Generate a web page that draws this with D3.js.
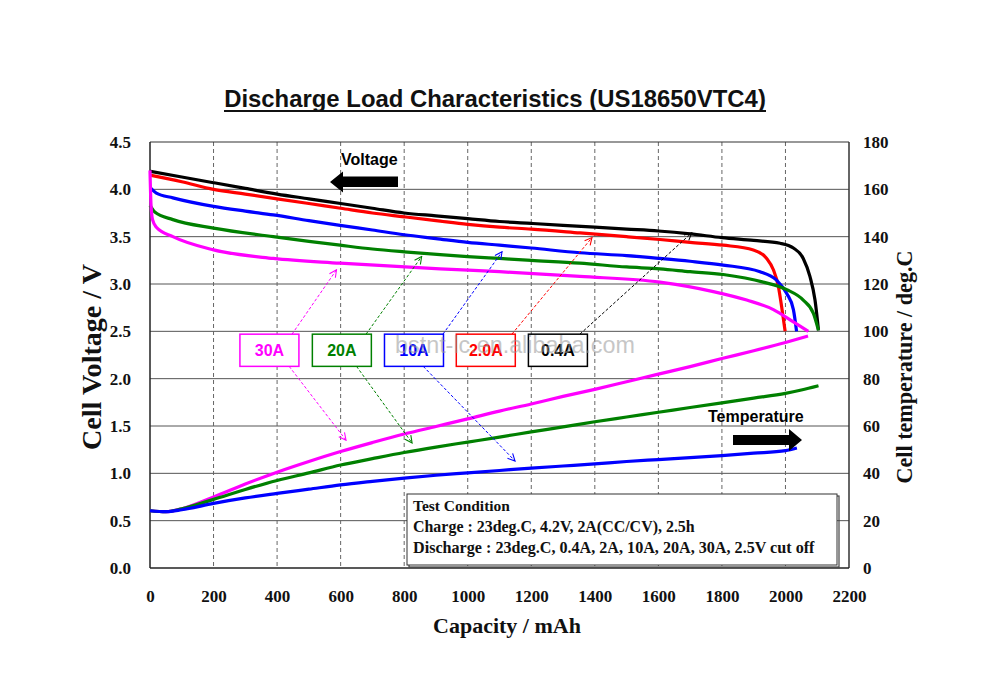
<!DOCTYPE html>
<html><head><meta charset="utf-8">
<script src="https://cdn.jsdelivr.net/npm/d3@7"></script>
<style>body{margin:0;background:#fff}</style></head>
<body>
<svg id="c" width="1000" height="685"></svg>
<script>
// ---------- DATA ----------
const capacityTicks = [0,200,400,600,800,1000,1200,1400,1600,1800,2000,2200];
const voltageTicks = [0,0.5,1,1.5,2,2.5,3,3.5,4,4.5];
const tempTicks = [0,20,40,60,80,100,120,140,160,180];
const loadLabels = ["30A","20A","10A","2.0A","0.4A"];
const loadColors = ["#ff00ff","#008000","#0000ff","#ff0000","#000000"];

// discharge voltage curves (capacity mAh, voltage V)
const cap30A = [0,3,8,20,72,200,388,598,913,1100,1353,1605,1773,1878,1962,2025,2072];
const volt30A = [4.20,3.85,3.68,3.60,3.50,3.36,3.27,3.22,3.16,3.13,3.08,3.02,2.92,2.83,2.73,2.60,2.50];
const cap20A = [0,15,72,200,388,500,598,700,800,913,1000,1100,1200,1353,1500,1605,1700,1804,1930,2004,2056,2088,2104];
const volt20A = [3.83,3.76,3.68,3.59,3.50,3.45,3.41,3.37,3.34,3.31,3.29,3.27,3.25,3.22,3.18,3.16,3.13,3.10,3.02,2.94,2.83,2.69,2.51];
const cap10A = [0,20,72,200,300,388,500,598,700,800,900,1000,1100,1200,1353,1500,1605,1700,1804,1920,1972,2004,2025,2035];
const volt10A = [4.02,3.96,3.91,3.82,3.77,3.73,3.67,3.62,3.57,3.52,3.48,3.44,3.41,3.38,3.33,3.30,3.27,3.24,3.20,3.13,3.04,2.90,2.73,2.50];
const cap2A = [0,100,200,300,400,500,600,700,800,900,1000,1100,1200,1353,1500,1605,1700,1804,1899,1941,1962,1978,1988,1999];
const volt2A = [4.15,4.08,4.00,3.95,3.90,3.85,3.80,3.75,3.71,3.67,3.63,3.60,3.58,3.54,3.50,3.47,3.44,3.41,3.36,3.27,3.15,2.97,2.76,2.50];
const cap04A = [0,100,200,300,400,500,600,700,800,900,1000,1100,1200,1300,1400,1500,1600,1700,1800,1900,1983,2025,2056,2077,2093,2104];
const volt04A = [4.19,4.13,4.07,4.01,3.95,3.90,3.85,3.80,3.75,3.72,3.69,3.66,3.64,3.62,3.60,3.58,3.56,3.53,3.49,3.46,3.43,3.38,3.27,3.08,2.83,2.51];

// cell temperature curves (capacity mAh, deg.C)
const tcap30A = [0,50,100,200,300,400,500,600,700,800,900,1000,1100,1200,1300,1400,1500,1600,1700,1800,1900,2000,2071];
const temp30A = [24.2,23.8,25,30,35.5,40.5,45,49.2,53,56.6,59.8,63,66.3,69.3,72.5,75.5,78.7,81.9,85.1,88.5,91.8,95.3,98];
const tcap20A = [0,50,100,200,300,400,500,600,700,800,900,1000,1100,1200,1300,1400,1500,1600,1700,1800,1900,2000,2050,2104];
const temp20A = [24.2,23.8,25,29,33.2,37,40.2,43.5,46.2,48.8,51.1,53.2,55.3,57.5,59.6,61.8,63.8,65.8,67.8,69.8,71.8,73.8,75.2,77];
const tcap10A = [0,50,100,200,300,400,500,600,700,800,900,1000,1100,1200,1300,1400,1500,1600,1700,1800,1900,2000,2036];
const temp10A = [24.2,23.8,24.6,27.3,29.6,31.5,33.3,35.1,36.6,38,39.2,40.2,41.2,42.2,43.1,44,45,45.8,46.6,47.5,48.5,49.6,50.7];

// annotation arrows (capacity, voltage) from label boxes to curves
const upArrowStart = [[447,2.47],[680,2.47],[922,2.47],[1139,2.47],[1353,2.47]];
const upArrowEnd = [[587,3.15],[855,3.29],[1108,3.34],[1391,3.49],[1705,3.54]];
const downArrowStart = [[438,2.13],[650,2.13],[860,2.13]];
const downArrowEnd = [[617,1.35],[825,1.32],[1149,1.13]];
const labelBoxCap = [283,511,738,964,1191];

const testLines = ["Test Condition","Charge : 23deg.C, 4.2V, 2A(CC/CV), 2.5h","Discharge : 23deg.C, 0.4A, 2A, 10A, 20A, 30A, 2.5V cut off"];

// ---------- CHART ----------
const svg = d3.select("#c");
const L = 150, R = 849, T = 142, B = 568;
const x = d3.scaleLinear().domain([0,2200]).range([L,R]);
const y = d3.scaleLinear().domain([0,4.5]).range([B,T]);
const yT = d3.scaleLinear().domain([0,180]).range([B,T]);
const serif = "'Liberation Serif','Times New Roman',serif";
const sans = "'Liberation Sans',Arial,sans-serif";

function fit(t, w){
  const n = t.node();
  const fs = parseFloat(t.attr("font-size"));
  const len = n.getComputedTextLength();
  t.attr("font-size", fs*w/len);
}

// grid
const g = svg.append("g");
g.selectAll(".hg").data(voltageTicks.filter(v=>v>0 && v<4.5)).enter().append("line")
  .attr("x1",L).attr("x2",R).attr("y1",d=>y(d)).attr("y2",d=>y(d))
  .attr("stroke","#555").attr("stroke-width",1);
g.selectAll(".vg").data(capacityTicks.filter(c=>c>0 && c<2200)).enter().append("line")
  .attr("x1",d=>x(d)).attr("x2",d=>x(d)).attr("y1",T).attr("y2",B)
  .attr("stroke","#666").attr("stroke-width",1).attr("stroke-dasharray","4,3");

// frame
svg.append("line").attr("x1",L).attr("x2",R).attr("y1",T).attr("y2",T).attr("stroke","#333").attr("stroke-width",1.2);
svg.append("line").attr("x1",R).attr("x2",R).attr("y1",T).attr("y2",B).attr("stroke","#333").attr("stroke-width",1.5);
svg.append("line").attr("x1",L).attr("x2",L).attr("y1",T).attr("y2",B).attr("stroke","#222").attr("stroke-width",1.5);
svg.append("line").attr("x1",L).attr("x2",R).attr("y1",B).attr("y2",B).attr("stroke","#222").attr("stroke-width",1.5);

// axes tick labels using d3 axes
const axL = svg.append("g").attr("transform",`translate(${L},0)`)
  .call(d3.axisLeft(y).tickValues(voltageTicks).tickFormat(d3.format(".1f")).tickSize(0).tickPadding(19));
const axR = svg.append("g").attr("transform",`translate(${R},0)`)
  .call(d3.axisRight(yT).tickValues(tempTicks).tickFormat(d3.format("d")).tickSize(0).tickPadding(14));
const axB = svg.append("g").attr("transform",`translate(0,${B})`)
  .call(d3.axisBottom(x).tickValues(capacityTicks).tickFormat(d3.format("d")).tickSize(0).tickPadding(22));
[axL,axR,axB].forEach(a=>{
  a.select(".domain").remove();
  a.selectAll("text").attr("font-family",serif).attr("font-weight","bold").attr("font-size",17).attr("fill","#111");
});

// curves
const vSeries = [[cap30A,volt30A],[cap20A,volt20A],[cap10A,volt10A],[cap2A,volt2A],[cap04A,volt04A]];
const line = d3.line().x(d=>x(d[0])).y(d=>y(d[1])).curve(d3.curveMonotoneX);
const lineT = d3.line().x(d=>x(d[0])).y(d=>yT(d[1])).curve(d3.curveMonotoneX);
const tSeries = [[tcap30A,temp30A],[tcap20A,temp20A],[tcap10A,temp10A]];
tSeries.forEach((s,i)=>{
  svg.append("path").attr("d",lineT(s[0].map((c,k)=>[c,s[1][k]])))
    .attr("fill","none").attr("stroke",loadColors[i]).attr("stroke-width",3.2);
});
[4,3,2,1,0].forEach(i=>{
  const s = vSeries[i];
  svg.append("path").attr("d",line(s[0].map((c,k)=>[c,s[1][k]])))
    .attr("fill","none").attr("stroke",loadColors[i]).attr("stroke-width",3.2).attr("stroke-linejoin","round");
});

// arrow markers
const defs = svg.append("defs");
loadColors.forEach((c,i)=>{
  defs.append("marker").attr("id","m"+i).attr("viewBox","0 0 10 10").attr("refX",9).attr("refY",5)
    .attr("markerWidth",9).attr("markerHeight",9).attr("markerUnits","userSpaceOnUse").attr("orient","auto")
    .append("path").attr("d","M1,1 L9,5 L1,9").attr("fill","none").attr("stroke",c).attr("stroke-width",1.2);
});
upArrowStart.forEach((s,i)=>{
  svg.append("line").attr("x1",x(s[0])).attr("y1",y(s[1])).attr("x2",x(upArrowEnd[i][0])).attr("y2",y(upArrowEnd[i][1]))
    .attr("stroke",loadColors[i]).attr("stroke-width",1).attr("stroke-dasharray","3,2").attr("marker-end",`url(#m${i})`);
});
downArrowStart.forEach((s,i)=>{
  svg.append("line").attr("x1",x(s[0])).attr("y1",y(s[1])).attr("x2",x(downArrowEnd[i][0])).attr("y2",y(downArrowEnd[i][1]))
    .attr("stroke",loadColors[i]).attr("stroke-width",1).attr("stroke-dasharray","3,2").attr("marker-end",`url(#m${i})`);
});

// label boxes
labelBoxCap.forEach((c,i)=>{
  const bx = x(c), by = y(2.47), bw = 59, bh = y(2.13)-y(2.47);
  svg.append("rect").attr("x",bx).attr("y",by).attr("width",bw).attr("height",bh)
    .attr("fill","#fff").attr("stroke",loadColors[i]).attr("stroke-width",1.5);
  svg.append("text").attr("x",bx+bw/2).attr("y",by+bh/2+6).attr("text-anchor","middle")
    .attr("font-family",sans).attr("font-weight","bold").attr("font-size",16).attr("fill",loadColors[i])
    .text(loadLabels[i]);
});

// Voltage / Temperature annotations
svg.append("text").attr("x",341).attr("y",165).attr("font-family",sans).attr("font-weight","bold").attr("font-size",16).text("Voltage");
svg.append("path").attr("d","M330,182 L343,171.5 L343,176.5 L398,176.5 L398,187 L343,187 L343,192.5 Z").attr("fill","#000");
svg.append("text").attr("x",708).attr("y",422).attr("font-family",sans).attr("font-weight","bold").attr("font-size",16).text("Temperature");
svg.append("path").attr("d","M733,435 L789,435 L789,429 L802,440 L789,451 L789,445 L733,445 Z").attr("fill","#000");

// test condition box
svg.append("rect").attr("x",409).attr("y",496).attr("width",430).attr("height",71).attr("fill","none").attr("stroke","#444").attr("stroke-width",1.2);
svg.append("rect").attr("x",407).attr("y",494).attr("width",430).attr("height",71).attr("fill","#fff").attr("stroke","#333").attr("stroke-width",1);
const tw = [97,282,402];
testLines.forEach((s,i)=>{
  const t = svg.append("text").attr("x",413).attr("y",511+i*21).attr("font-family",serif).attr("font-weight","bold")
    .attr("font-size",14).attr("fill","#111").text(s);
  fit(t, tw[i]);
});

// title
const title = svg.append("text").attr("x",495).attr("y",107).attr("text-anchor","middle")
  .attr("font-family",sans).attr("font-weight","bold").attr("font-size",20).attr("fill","#111")
  .text("Discharge Load Characteristics (US18650VTC4)");
fit(title, 542);
svg.append("line").attr("x1",224).attr("x2",766).attr("y1",111).attr("y2",111).attr("stroke","#111").attr("stroke-width",2);

// axis titles
const xt = svg.append("text").attr("x",507).attr("y",633).attr("text-anchor","middle").attr("font-family",serif)
  .attr("font-weight","bold").attr("font-size",20).attr("fill","#111").text("Capacity / mAh");
fit(xt,148);
const ylt = svg.append("text").attr("transform","translate(101,357) rotate(-90)").attr("text-anchor","middle").attr("font-family",serif)
  .attr("font-weight","bold").attr("font-size",20).attr("fill","#111").text("Cell Voltage / V");
fit(ylt,186);
const yrt = svg.append("text").attr("transform","translate(912,367) rotate(-90)").attr("text-anchor","middle").attr("font-family",serif)
  .attr("font-weight","bold").attr("font-size",20).attr("fill","#111").text("Cell temperature / deg.C");
fit(yrt,233);

// watermark (drawn faintly, as in the reference)
const wm = svg.append("text").attr("x",515).attr("y",353).attr("text-anchor","middle").attr("font-family",sans)
  .attr("font-size",24).attr("fill","#999").attr("opacity",0.55).text("bstnt-lc.en.alibaba.com");
fit(wm,240);
</script>
</body></html>
